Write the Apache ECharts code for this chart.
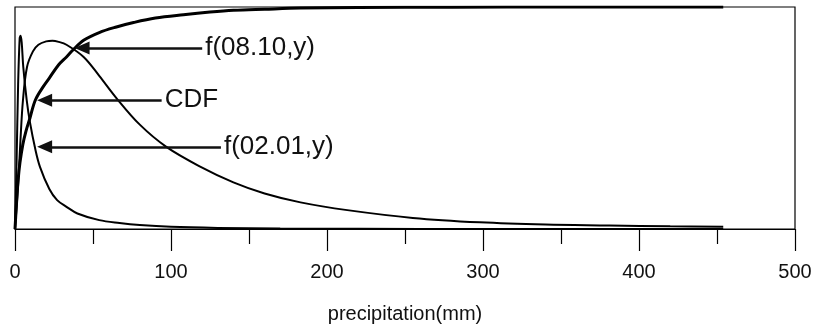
<!DOCTYPE html>
<html>
<head>
<meta charset="utf-8">
<script src="https://cdn.jsdelivr.net/npm/echarts@6/dist/echarts.min.js"></script>
<style>
  html, body { margin: 0; padding: 0; background: #fff; }
  #chart { width: 821px; height: 336px; }
</style>
</head>
<body>
<div id="chart"></div>
<script>
// precipitation (mm) and scaled curve values
const cdfX = [0, 1, 2, 3.2, 5, 7, 9.6, 13, 18, 22, 28, 33, 37, 44, 54, 65, 76, 90, 108, 125, 140, 160, 183, 220, 280, 350, 454];
const cdfY = [0, 0.12, 0.22, 0.3, 0.38, 0.44, 0.5, 0.58, 0.64, 0.68, 0.74, 0.775, 0.805, 0.85, 0.885, 0.91, 0.93, 0.95, 0.965, 0.977, 0.985, 0.99, 0.995, 0.998, 0.999, 1, 1];

const f0201X = [0, 1, 2, 3, 3.6, 4.3, 5.3, 7.5, 9.6, 13, 16, 22, 27, 33, 40, 54, 67, 80, 100, 130, 170, 220, 300, 454];
const f0201Y = [0, 0.3, 0.65, 0.86, 0.87, 0.84, 0.73, 0.58, 0.48, 0.36, 0.28, 0.18, 0.13, 0.1, 0.07, 0.04, 0.027, 0.018, 0.01, 0.005, 0.002, 0.001, 0, 0];

const f0810X = [0, 2, 3.5, 5.1, 7.7, 11.5, 15, 20, 24, 28, 33, 44, 54, 65, 80, 97, 119, 140, 160, 183, 213, 255, 298, 340, 381, 420, 454];
const f0810Y = [0, 0.2, 0.4, 0.58, 0.73, 0.8, 0.83, 0.845, 0.848, 0.843, 0.83, 0.775, 0.69, 0.59, 0.47, 0.37, 0.28, 0.21, 0.16, 0.12, 0.085, 0.05, 0.03, 0.02, 0.016, 0.012, 0.01];

const xTicks = [0, 100, 200, 300, 400, 500];

// annotation arrows: [label, tip x, end x, y]
const arrows = [
  ["f(08.10,y)", 43, 120, 0.815],
  ["CDF", 19, 94, 0.58],
  ["f(02.01,y)", 19, 132, 0.37]
];

const zip = (xs, ys) => xs.map((x, i) => [x, ys[i]]);
const font = "'Liberation Sans', Arial, sans-serif";

const chart = echarts.init(document.getElementById("chart"));

const curve = (name, data, width) => ({
  name,
  type: "line",
  data,
  showSymbol: false,
  smooth: 0.35,
  lineStyle: { color: "#000", width },
  silent: true
});

const cdfSeries = curve("CDF", zip(cdfX, cdfY), 3);
cdfSeries.markLine = {
  silent: true,
  animation: false,
  lineStyle: { color: "#111", width: 2.5, type: "solid" },
  label: {
    show: true,
    position: "end",
    distance: 3,
    color: "#111",
    fontFamily: font,
    fontSize: 26,
    formatter: (p) => p.name
  },
  data: arrows.map(([label, tip, end, y]) => [
    { name: label, coord: [tip, y], symbol: "triangle", symbolSize: [13, 15] },
    { coord: [end, y], symbol: "none" }
  ])
};

chart.setOption({
  animation: false,
  grid: {
    left: 15,
    right: 26,
    top: 7,
    bottom: 107,
    show: true,
    borderColor: "#000",
    borderWidth: 1.2
  },
  xAxis: {
    type: "value",
    min: xTicks[0],
    max: xTicks[xTicks.length - 1],
    interval: 100,
    name: "precipitation(mm)",
    nameLocation: "middle",
    nameGap: 75,
    nameTextStyle: { color: "#111", fontFamily: font, fontSize: 20 },
    axisLine: { lineStyle: { color: "#000", width: 1.2 } },
    axisTick: { show: true, length: 22, lineStyle: { color: "#000", width: 1.2 } },
    minorTick: { show: true, splitNumber: 2, length: 15, lineStyle: { color: "#000", width: 1.2 } },
    splitLine: { show: false },
    axisLabel: { color: "#111", fontFamily: font, fontSize: 20, margin: 33 }
  },
  yAxis: {
    type: "value",
    min: 0,
    max: 1,
    axisLine: { show: false },
    axisTick: { show: false },
    axisLabel: { show: false },
    splitLine: { show: false }
  },
  series: [
    cdfSeries,
    curve("f(08.10,y)", zip(f0810X, f0810Y), 2),
    curve("f(02.01,y)", zip(f0201X, f0201Y), 2)
  ]
});
</script>
</body>
</html>
